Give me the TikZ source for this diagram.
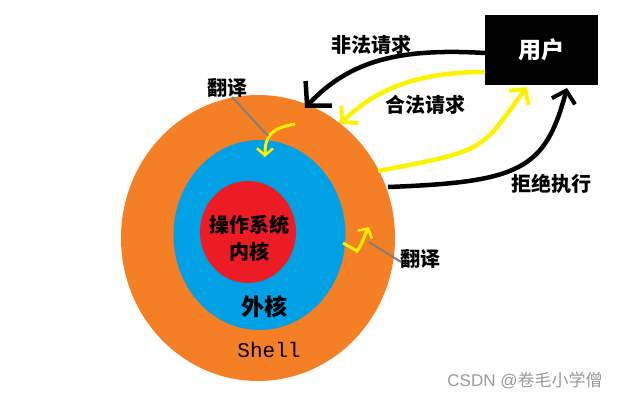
\documentclass[tikz,border=0pt]{standalone}
\usepackage{fontspec}
\newfontfamily\cjk{Noto Sans CJK SC}
\newfontfamily\monof{Liberation Mono}
\newfontfamily\wmfont{Liberation Sans}
\usetikzlibrary{arrows.meta}
\definecolor{shellorange}{HTML}{F47F24}
\definecolor{outerblue}{HTML}{00A0E4}
\definecolor{kernelred}{HTML}{ED1C24}
\definecolor{hiyellow}{HTML}{FFF200}
\definecolor{pgray}{HTML}{7F7F7F}
\definecolor{wmgray}{HTML}{9A9A9A}
\tikzset{
  lbl/.style={font=\cjk\bfseries\fontsize{20}{22}\selectfont, inner sep=0pt},
  bigarrow/.style={line width=4.5pt, -{Straight Barb[length=11pt,width=24pt,line width=4pt]}},
  hugearrow/.style={line width=4.5pt, -{Straight Barb[length=17pt,width=36pt,line width=4.5pt]}},
  smallarrow/.style={line width=3pt, hiyellow, -{Straight Barb[length=7pt,width=16pt,line width=2.5pt]}},
  pointer/.style={line width=2pt, pgray}
}
\begin{document}
\begin{tikzpicture}[x=1pt,y=-1pt]
\useasboundingbox (0,0) rectangle (622,402);
% rings
\fill[shellorange] (258,238) ellipse [x radius=137, y radius=143];
\fill[outerblue] (259.5,235) ellipse [x radius=86, y radius=95];
\fill[kernelred] (248,232) ellipse [x radius=48, y radius=51];
\node[font=\cjk\bfseries\fontsize{20}{24}\selectfont, align=center, inner sep=0pt, text=black] (kern) at (249,238) {操作系统\\[3pt]内核};
\node[font=\cjk\bfseries\fontsize{23}{26}\selectfont, inner sep=0pt] (outer) at (264,307) {外核};
\node[font=\monof\fontsize{21}{24}\selectfont, inner sep=0pt] (shelllbl) at (269,350) {Shell};
% user box
\node[fill=black, minimum width=113pt, minimum height=70pt, inner sep=0pt, text=white, font=\cjk\bfseries\fontsize{23}{26}\selectfont] (user) at (541.5,50) {用户};
% labels
\node[lbl] (illegal) at (371,45) {非法请求};
\node[lbl] (legal) at (425,105) {合法请求};
\node[lbl] (refuse) at (551,184) {拒绝执行};
\node[lbl] (tr1) at (227,88) {翻译};
\node[lbl] (tr2) at (420,259) {翻译};
\node[font=\wmfont\fontsize{17}{19}\selectfont, text=wmgray, inner sep=0pt] (csdn) at (525,380) {CSDN @{\cjk 卷毛小学僧}};
% connectors coordinates
\coordinate (u1) at (485,53);
\coordinate (t1) at (305,108);
\coordinate (u2) at (485,72);
\coordinate (t2) at (340,124);
\coordinate (s3) at (378,171);
\coordinate (t3) at (527,87);
\coordinate (s4) at (388,187);
\coordinate (t4) at (567,88);
\draw[hugearrow] (u1) .. controls (400,48) and (350,60) .. (t1);
\draw[bigarrow, hiyellow] (u2) .. controls (425,72) and (380,85) .. (t2);
\draw[bigarrow, hiyellow] (s3) .. controls (490,150) and (480,150) .. (t3);
\draw[bigarrow] (s4) .. controls (520,182) and (545,170) .. (t4);
% small yellow arrows
\coordinate (a1s) at (295,124);
\coordinate (a1t) at (265,157);
\draw[smallarrow] (a1s) .. controls (272,128) and (265,135) .. (a1t);
\coordinate (a2s) at (343,243);
\coordinate (a2t) at (369,227);
\draw[smallarrow] (a2s) -- (357,251) .. controls (362,245) and (364,236) .. (a2t);
% gray pointers
\coordinate (p1) at (268,136);
\coordinate (q1) at (232,97);
\coordinate (p2) at (369,242);
\coordinate (q2) at (401,262);
\draw[pointer] (q1) -- (p1);
\draw[pointer] (q2) -- (p2);
\end{tikzpicture}
\end{document}
